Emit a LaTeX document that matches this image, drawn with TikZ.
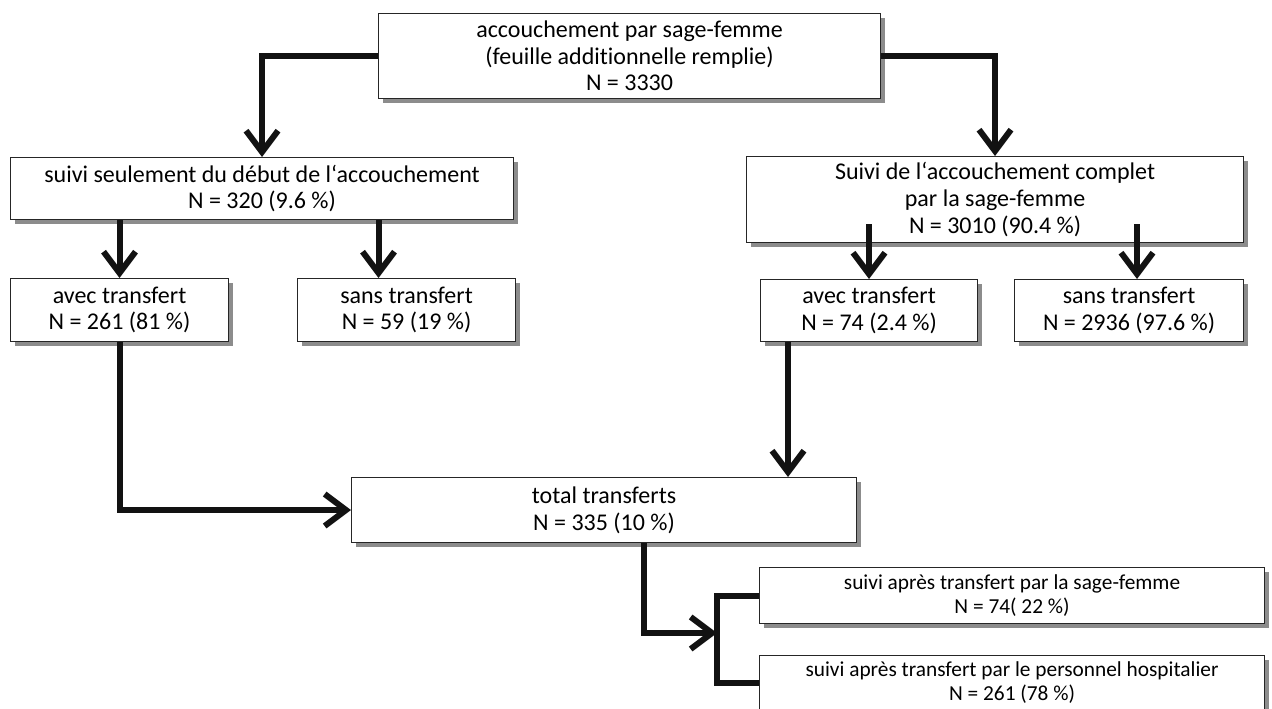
\documentclass[tikz,border=0pt]{standalone}
\usepackage{fontspec}
\setmainfont{Carlito}[Ligatures=NoCommon]
\usetikzlibrary{arrows.meta,shadows,calc}

\tikzset{
  box/.style={draw=black!85, line width=0.8pt, fill=white, align=center,
    inner sep=2pt, anchor=north west,
    drop shadow={shadow xshift=3.5pt, shadow yshift=-3.5pt, fill=black!45, opacity=1},
    font=\fontsize{18}{20}\selectfont},
  smallbox/.style={box, font=\fontsize{16}{18}\selectfont},
  link/.style={line width=4.5pt, draw=black!93},
  arr/.style={link, -{Straight Barb[length=16pt,width=24pt]}},
}

\begin{document}
\begin{tikzpicture}[x=0.75pt, y=-0.75pt]
\useasboundingbox (0,0) rectangle (1272,709);

\node[box, minimum width=376.5pt, minimum height=63.75pt] (acc) at (378,13)
{accouchement par sage-femme\\(feuille additionnelle remplie)\\N = 3330};

\node[box, minimum width=377.25pt, minimum height=46.5pt] (lm) at (10,157)
{suivi seulement du début de l‘accouchement\\N = 320 (9.6 \%)};

\node[box, minimum width=372.75pt, minimum height=64.5pt] (rm) at (746,156)
{Suivi de l‘accouchement complet\\par la sage-femme\\N = 3010 (90.4 \%)};

\node[box, minimum width=163.5pt, minimum height=47.25pt] (la) at (10,278)
{avec transfert\\N = 261 (81 \%)};

\node[box, minimum width=163.5pt, minimum height=47.25pt] (ls) at (297,278)
{sans transfert\\N = 59 (19 \%)};

\node[box, minimum width=162.75pt, minimum height=46.5pt] (ra) at (760,279)
{avec transfert\\N = 74 (2.4 \%)};

\node[box, minimum width=171.75pt, minimum height=46.5pt] (rs) at (1014,279)
{sans transfert\\N = 2936 (97.6 \%)};

\node[box, minimum width=378.75pt, minimum height=48.75pt] (tot) at (351,477)
{total transferts\\N = 335 (10 \%)};

\node[smallbox, minimum width=378.75pt, minimum height=42pt] (sf) at (759,567)
{suivi après transfert par la sage-femme\\N = 74( 22 \%)};

\node[smallbox, minimum width=378.75pt, minimum height=41.25pt] (hp) at (759,655)
{suivi après transfert par le personnel hospitalier\\N = 261 (78 \%)};

\coordinate (lsin) at ($(ls.north)+(-28,0)$);
\coordinate (rmlow) at ($(rm.south)+(0,-19)$);
\coordinate (rsin) at ($(rs.north)+(8,0)$);
\coordinate (rain) at ($(ra.south)+(-81,0)$);
\coordinate (totout) at ($(tot.south)+(40,0)$);
\coordinate (fork) at (717,633);

\draw[arr] (acc.west) -| (lm.north);
\draw[arr] (acc.east) -| (rm.north);

\draw[arr] (la.north |- lm.south) -- (la.north);
\draw[arr] (lsin |- lm.south) -- (lsin);

\draw[arr] (ra.north |- rmlow) -- (ra.north);
\draw[arr] (rsin |- rmlow) -- (rsin);

\draw[arr] (la.south) |- (tot.west);
\draw[arr] (rain) -- (rain |- tot.north);

\draw[arr] (totout) |- (fork);
\draw[link] (sf.west) -| (fork) |- (hp.west);
\end{tikzpicture}
\end{document}
